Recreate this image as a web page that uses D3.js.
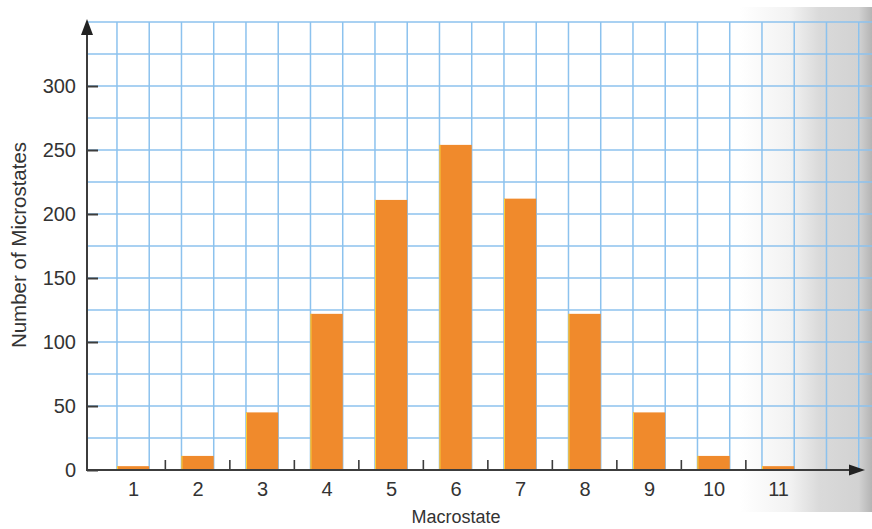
<!DOCTYPE html>
<html>
<head>
<meta charset="utf-8">
<script src="https://cdn.jsdelivr.net/npm/d3@7"></script>
<style>
  body { margin: 0; background: #fff; }
  svg { display: block; }
  text { font-family: "Liberation Sans", Arial, sans-serif; fill: #333; }
</style>
</head>
<body>
<div id="chart"></div>
<script>
// values
const macrostates = [1, 2, 3, 4, 5, 6, 7, 8, 9, 10, 11];
const microstates = [3, 11, 45, 122, 211, 254, 212, 122, 45, 11, 3];
const yTicks = [0, 50, 100, 150, 200, 250, 300];

const width = 872;
const height = 529;

const svg = d3.select('#chart').append('svg')
    .attr('width', width)
    .attr('height', height);

const x = d3.scaleLinear().domain([1, 11]).range([133.1, 778.1]);
const y = d3.scaleLinear().domain([0, 350]).range([470, 22]);
const barW = x(1.5) - x(1);
const x0 = 87;

// page shading on the right side of the scan
const defs = svg.append('defs');
const grad = defs.append('linearGradient')
    .attr('id', 'shade')
    .attr('x1', 0).attr('x2', 1).attr('y1', 0).attr('y2', 0);
grad.append('stop').attr('offset', '0%').attr('stop-color', '#ffffff');
grad.append('stop').attr('offset', '38%').attr('stop-color', '#f2f2f2');
grad.append('stop').attr('offset', '60%').attr('stop-color', '#dadada');
grad.append('stop').attr('offset', '90%').attr('stop-color', '#d2d2d2');
grad.append('stop').attr('offset', '100%').attr('stop-color', '#b4b4b4');

svg.append('rect')
    .attr('x', 740).attr('y', 7)
    .attr('width', width - 740).attr('height', 505)
    .attr('fill', 'url(#shade)');

// GRID
const gridColor = '#8cc2ee';
const vLines = d3.range(0.25, 14, 0.5).filter(v => x(v) > x0 + 2 && x(v) < width);
svg.append('g').selectAll('line')
    .data(vLines)
    .join('line')
    .attr('x1', d => x(d)).attr('x2', d => x(d))
    .attr('y1', y(350)).attr('y2', y(0))
    .attr('stroke', gridColor)
    .attr('stroke-width', 1.5);

svg.append('g').selectAll('line')
    .data(d3.range(25, 351, 25))
    .join('line')
    .attr('x1', x0).attr('x2', width)
    .attr('y1', d => y(d)).attr('y2', d => y(d))
    .attr('stroke', gridColor)
    .attr('stroke-width', 1.5);

// BARS
svg.append('g').selectAll('rect')
    .data(macrostates)
    .join('rect')
    .attr('x', (d, i) => x(d) - barW / 2)
    .attr('y', (d, i) => y(microstates[i]))
    .attr('width', barW)
    .attr('height', (d, i) => y(0) - y(microstates[i]))
    .attr('fill', '#f08a2c');

// yellow left edge from the print
svg.append('g').selectAll('line')
    .data(macrostates)
    .join('line')
    .attr('x1', d => x(d) - barW / 2 + 0.5).attr('x2', d => x(d) - barW / 2 + 0.5)
    .attr('y1', (d, i) => y(microstates[i])).attr('y2', y(0))
    .attr('stroke', '#f7d23a')
    .attr('stroke-width', 1);

// AXES
const axisColor = '#3c3c3c';

const yAxis = svg.append('g')
    .attr('transform', `translate(${x0},0)`)
    .call(d3.axisLeft(y).tickValues(yTicks).tickSizeInner(-11).tickSizeOuter(0).tickPadding(11));
yAxis.select('.domain').remove();
yAxis.selectAll('line').attr('stroke', axisColor).attr('stroke-width', 2);
yAxis.selectAll('text').style('font-size', '20px').attr('fill', '#333');

const xAxis = svg.append('g')
    .attr('transform', `translate(0,${y(0)})`)
    .call(d3.axisBottom(x).tickValues(macrostates).tickSize(0).tickPadding(12).tickFormat(d3.format('d')));
xAxis.select('.domain').remove();
xAxis.selectAll('text').style('font-size', '20px').attr('fill', '#333');

// ticks between the bars
svg.append('g').selectAll('line')
    .data(macrostates.slice(0, -1).map(d => d + 0.5))
    .join('line')
    .attr('x1', d => x(d)).attr('x2', d => x(d))
    .attr('y1', y(0)).attr('y2', y(0) - 10)
    .attr('stroke', axisColor)
    .attr('stroke-width', 1.6);

// axis lines with arrow heads
svg.append('line')
    .attr('x1', x0).attr('x2', x0)
    .attr('y1', y(0) + 1).attr('y2', 32)
    .attr('stroke', axisColor).attr('stroke-width', 2);
svg.append('path')
    .attr('d', `M${x0},19 L${x0 - 6},35 L${x0 + 6},35 Z`)
    .attr('fill', '#222');

svg.append('line')
    .attr('x1', x0).attr('x2', 852)
    .attr('y1', y(0)).attr('y2', y(0))
    .attr('stroke', axisColor).attr('stroke-width', 2);
svg.append('path')
    .attr('d', `M865,${y(0)} L849,${y(0) - 5.5} L849,${y(0) + 5.5} Z`)
    .attr('fill', '#222');

// TITLES
svg.append('text')
    .attr('transform', 'translate(26,245) rotate(-90)')
    .attr('text-anchor', 'middle')
    .style('font-size', '20.5px')
    .text('Number of Microstates');

svg.append('text')
    .attr('x', 456).attr('y', 523)
    .attr('text-anchor', 'middle')
    .style('font-size', '18px')
    .text('Macrostate');
</script>
</body>
</html>
